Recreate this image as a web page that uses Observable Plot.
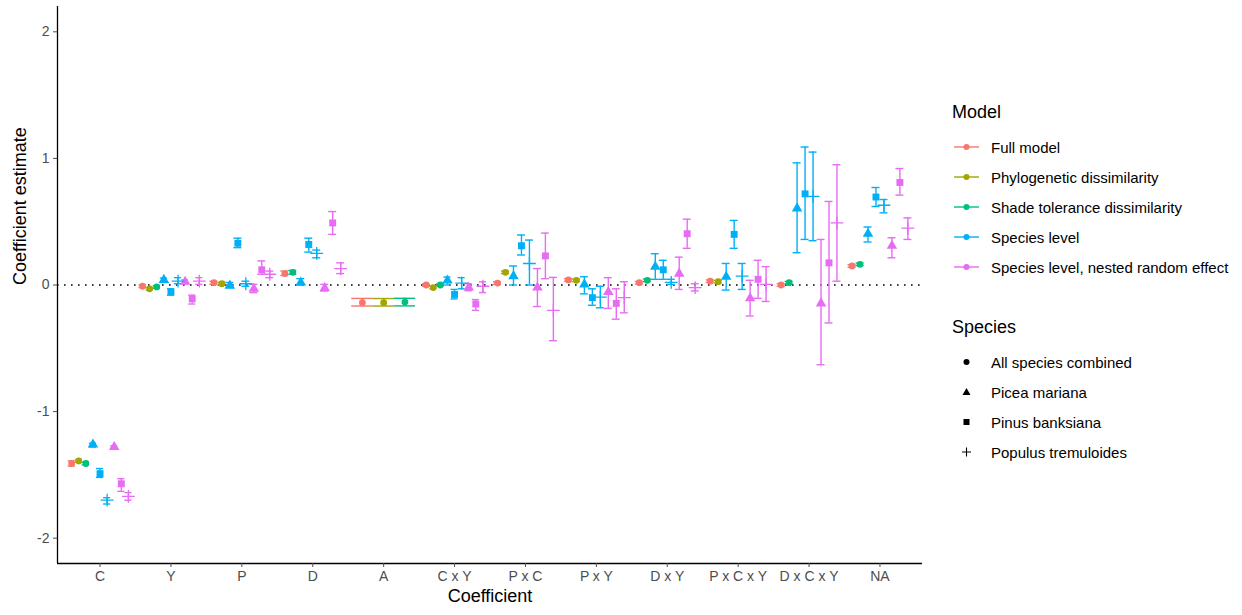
<!DOCTYPE html>
<html>
<head>
<meta charset="utf-8">
<script src="https://cdn.jsdelivr.net/npm/d3@7"></script>
<script src="https://cdn.jsdelivr.net/npm/@observablehq/plot@0.6"></script>
<style>
  body { margin: 0; background: #fff; font-family: "Liberation Sans", Arial, sans-serif; }
  #wrap { position: relative; width: 1242px; height: 615px; }
  #chart { position: absolute; left: 0; top: 0; }
  #legend { position: absolute; left: 952px; top: 0; color: #000; }
  .ltitle { position: absolute; left: 0; font-size: 18px; white-space: nowrap; }
  .litem { position: absolute; left: 0; height: 20px; display: flex; align-items: center; white-space: nowrap; font-size: 15px; }
  .litem svg { width: 30px; height: 20px; margin-right: 9px; }
</style>
</head>
<body>
<div id="wrap">
  <div id="chart"></div>
  <div id="legend"></div>
</div>
<script>
// ---- Data ----
const categories = ["C", "Y", "P", "D", "A", "C x Y", "P x C", "P x Y", "D x Y", "P x C x Y", "D x C x Y", "NA"];
const models = ["Full model", "Phylogenetic dissimilarity", "Shade tolerance dissimilarity", "Species level", "Species level, nested random effect"];
const modelColors = ["#F8766D", "#A3A500", "#00BF7D", "#00B0F6", "#E76BF3"];
const speciesNames = ["All species combined", "Picea mariana", "Pinus banksiana", "Populus tremuloides"];
const speciesSymbols = ["circle", "triangle", "square", "plus"];
const yTicks = [-2, -1, 0, 1, 2];

// each entry: [estimate, lower, upper] per category (null = not estimated)
const fullModelAll = [
  [-1.41, -1.43, -1.39], [-0.01, -0.02, 0.0], [0.018, 0.005, 0.03], [0.09, 0.075, 0.11],
  [-0.14, -0.166, -0.106], [0.0, -0.01, 0.01], [0.015, 0.005, 0.025], [0.04, 0.03, 0.05],
  [0.018, 0.008, 0.028], [0.03, 0.02, 0.04], [0.0, -0.01, 0.01], [0.15, 0.14, 0.16]
];
const phyloAll = [
  [-1.39, -1.40, -1.38], [-0.03, -0.04, -0.02], [0.01, 0.0, 0.02], null,
  [-0.14, -0.166, -0.107], [-0.02, -0.03, -0.01], [0.10, 0.09, 0.11], [0.037, 0.027, 0.047],
  null, [0.026, 0.016, 0.036], null, null
];
const shadeAll = [
  [-1.41, -1.42, -1.40], [-0.015, -0.025, -0.005], null, [0.10, 0.085, 0.115],
  [-0.135, -0.165, -0.105], [0.0, -0.01, 0.01], null, null,
  [0.037, 0.027, 0.047], null, [0.018, 0.008, 0.028], [0.163, 0.153, 0.173]
];
const speciesPicea = [
  [-1.26, -1.28, -1.25], [0.04, 0.02, 0.055], [-0.005, -0.02, 0.02], [0.02, 0.0, 0.05],
  null, [0.035, 0.0, 0.063], [0.07, 0.0, 0.15], [0.005, -0.07, 0.065],
  [0.145, 0.045, 0.247], [0.065, -0.04, 0.17], [0.605, 0.255, 0.965], [0.405, 0.34, 0.458]
];
const speciesPinus = [
  [-1.49, -1.52, -1.45], [-0.055, -0.08, -0.03], [0.33, 0.295, 0.37], [0.32, 0.26, 0.37],
  null, [-0.075, -0.11, -0.035], [0.31, 0.237, 0.395], [-0.1, -0.16, -0.03],
  [0.12, 0.045, 0.195], [0.40, 0.29, 0.51], [0.72, 0.36, 1.09], [0.695, 0.62, 0.77]
];
const speciesPopulus = [
  [-1.70, -1.73, -1.68], [0.03, 0.01, 0.058], [0.01, -0.01, 0.03], [0.25, 0.215, 0.276],
  null, [0.015, -0.03, 0.058], [0.17, 0.0, 0.355], [-0.095, -0.18, -0.01],
  [0.02, 0.005, 0.045], [0.07, -0.035, 0.17], [0.7, 0.35, 1.05], [0.63, 0.57, 0.675]
];
const nestedPicea = [
  [-1.28, -1.29, -1.27], [0.025, 0.01, 0.04], [-0.03, -0.06, 0.005], [-0.025, -0.047, 0.005],
  null, [-0.02, -0.045, 0.01], [-0.02, -0.17, 0.13], [-0.055, -0.185, 0.058],
  [0.09, -0.035, 0.22], [-0.105, -0.245, 0.037], [-0.145, -0.63, 0.36], [0.31, 0.215, 0.373]
];
const nestedPinus = [
  [-1.57, -1.63, -1.53], [-0.11, -0.15, -0.08], [0.12, 0.085, 0.19], [0.49, 0.40, 0.58],
  null, [-0.15, -0.2, -0.115], [0.23, 0.05, 0.41], [-0.145, -0.27, -0.03],
  [0.405, 0.29, 0.52], [0.045, -0.105, 0.195], [0.175, -0.3, 0.66], [0.81, 0.71, 0.92]
];
const nestedPopulus = [
  [-1.67, -1.70, -1.64], [0.03, 0.005, 0.058], [0.085, 0.058, 0.11], [0.13, 0.09, 0.175],
  null, [-0.01, -0.06, 0.025], [-0.2, -0.44, 0.06], [-0.1, -0.22, 0.026],
  [-0.02, -0.047, 0.01], [0.005, -0.13, 0.145], [0.49, 0.03, 0.95], [0.45, 0.36, 0.53]
];

const series = [
  {model: models[0], species: speciesNames[0], values: fullModelAll},
  {model: models[1], species: speciesNames[0], values: phyloAll},
  {model: models[2], species: speciesNames[0], values: shadeAll},
  {model: models[3], species: speciesNames[1], values: speciesPicea},
  {model: models[3], species: speciesNames[2], values: speciesPinus},
  {model: models[3], species: speciesNames[3], values: speciesPopulus},
  {model: models[4], species: speciesNames[1], values: nestedPicea},
  {model: models[4], species: speciesNames[2], values: nestedPinus},
  {model: models[4], species: speciesNames[3], values: nestedPopulus}
];

// ---- Build rows with dodge (width 0.9 split among groups present) ----
const rows = [];
series.forEach((s, si) => s.values.forEach((v, ci) => {
  if (v) rows.push({cat: ci, order: si, model: s.model, species: s.species, est: v[0], lo: v[1], hi: v[2]});
}));
for (const [ci, arr] of d3.group(rows, d => d.cat)) {
  arr.sort((a, b) => a.order - b.order);
  const n = arr.length, w = 0.9 / n;
  arr.forEach((d, i) => { d.x = ci + 1 - 0.45 + (i + 0.5) * w; d.w = w; });
}

const xDomain = [0.4, categories.length + 0.6];
const yDomain = [-2.2, 2.2];
const colorOf = d => modelColors[models.indexOf(d.model)];

const chart = Plot.plot({
  width: 930,
  height: 615,
  marginLeft: 57,
  marginRight: 8,
  marginTop: 6,
  marginBottom: 52,
  style: {fontFamily: "'Liberation Sans', Arial, sans-serif", background: "white"},
  x: {domain: xDomain, axis: null},
  y: {domain: yDomain, axis: null},
  symbol: {domain: speciesNames, range: speciesSymbols},
  marks: [
    Plot.ruleY([0], {stroke: "#000", strokeWidth: 1.6, strokeDasharray: "1.6,5.4"}),
    Plot.ruleX(rows, {x: "x", y1: "lo", y2: "hi", stroke: colorOf, strokeWidth: 1.4}),
    Plot.ruleY(rows, {y: "lo", x1: d => d.x - d.w / 2, x2: d => d.x + d.w / 2, stroke: colorOf, strokeWidth: 1.4}),
    Plot.ruleY(rows, {y: "hi", x1: d => d.x - d.w / 2, x2: d => d.x + d.w / 2, stroke: colorOf, strokeWidth: 1.4}),
    Plot.dot(rows.filter(d => d.species === speciesNames[0]), {x: "x", y: "est", symbol: "species", fill: colorOf, r: 3.4}),
    Plot.dot(rows.filter(d => d.species === speciesNames[1] || d.species === speciesNames[2]), {x: "x", y: "est", symbol: "species", fill: colorOf, r: 3.9}),
    Plot.dot(rows.filter(d => d.species === speciesNames[3]), {x: "x", y: "est", symbol: "species", stroke: colorOf, strokeWidth: 1.3, r: 4.2}),
    Plot.ruleX([xDomain[0]], {stroke: "#000", strokeWidth: 1.3}),
    Plot.ruleY([yDomain[0]], {stroke: "#000", strokeWidth: 1.3}),
    Plot.axisY({ticks: yTicks, tickFormat: d => String(d), tickSize: 4, tickPadding: 4, fontSize: 14, color: "#4d4d4d", label: null}),
    Plot.axisX({ticks: d3.range(1, categories.length + 1), tickFormat: i => categories[i - 1], tickSize: 4, tickPadding: 4, fontSize: 14, color: "#4d4d4d", label: null}),
    Plot.text(["Coefficient estimate"], {frameAnchor: "left", rotate: -90, dx: -37, fontSize: 18, fill: "#000"}),
    Plot.text(["Coefficient"], {frameAnchor: "bottom", dy: 38, fontSize: 18, fill: "#000"})
  ]
});
document.getElementById("chart").appendChild(chart);

// ---- Legend ----
const legend = document.getElementById("legend");
function addTitle(text, top) {
  const t = document.createElement("div");
  t.className = "ltitle"; t.textContent = text; t.style.top = top + "px";
  legend.appendChild(t);
}
function addItem(html, label, centerY) {
  const it = document.createElement("div");
  it.className = "litem"; it.style.top = (centerY - 10) + "px";
  it.innerHTML = html + "<span>" + label + "</span>";
  legend.appendChild(it);
}
addTitle("Model", 102);
models.forEach((m, i) => {
  const c = modelColors[i];
  addItem(`<svg viewBox="0 0 30 20"><line x1="2" x2="27" y1="10" y2="10" stroke="${c}" stroke-width="1.4"/><circle cx="14.5" cy="10" r="3" fill="${c}"/></svg>`, m, 147 + i * 30);
});
addTitle("Species", 317);
const symPaths = [
  `<circle cx="14.5" cy="10" r="3" fill="#000"/>`,
  `<path d="M14.5 6 L18.5 13 L10.5 13 Z" fill="#000"/>`,
  `<rect x="11.5" y="7" width="6" height="6" fill="#000"/>`,
  `<path d="M14.5 5.5 V14.5 M10 10 H19" stroke="#000" stroke-width="1.1" fill="none"/>`
];
speciesNames.forEach((s, i) => {
  addItem(`<svg viewBox="0 0 30 20">${symPaths[i]}</svg>`, s, 362 + i * 30);
});
</script>
</body>
</html>
